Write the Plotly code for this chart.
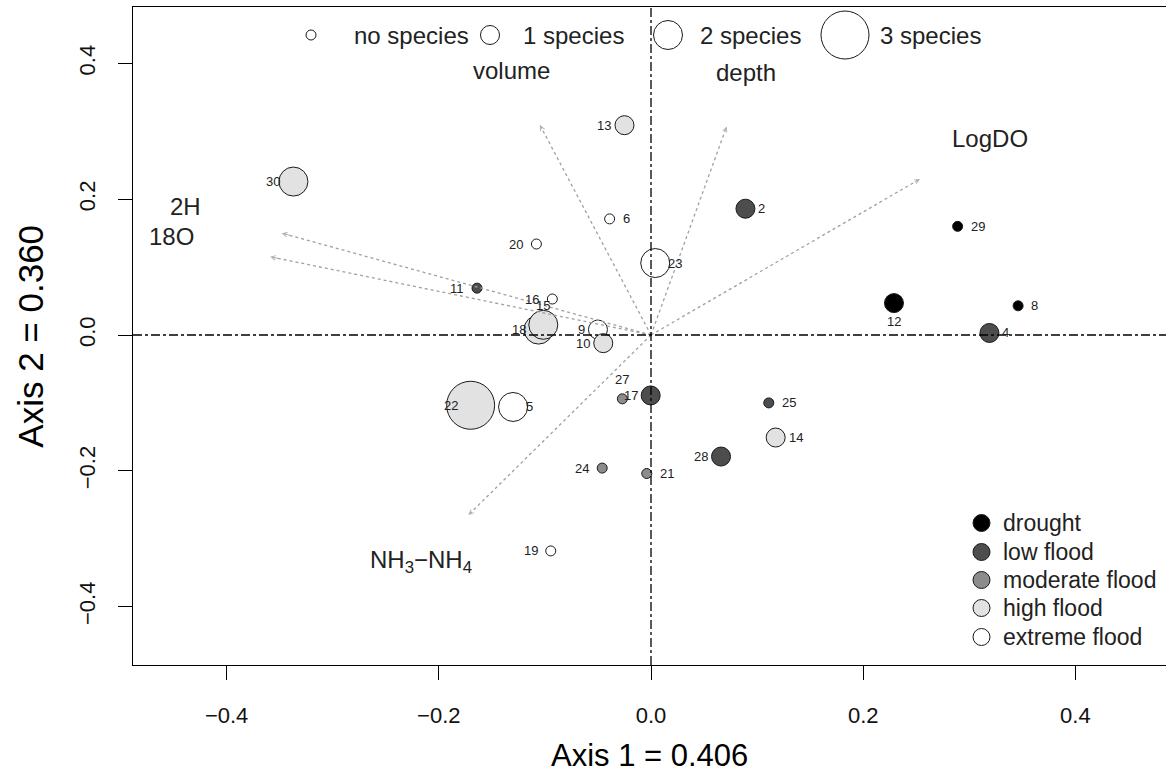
import plotly.graph_objects as go

# ---------------- data ----------------
site_ids = ["30", "13", "2", "6", "29", "20", "23", "11", "16", "18", "15", "9", "10",
            "12", "8", "4", "27", "17", "22", "5", "25", "14", "28", "24", "21", "19"]
axis1 = [-0.337, -0.025, 0.089, -0.039, 0.289, -0.108, 0.004, -0.164, -0.093, -0.106, -0.1015, -0.050, -0.045,
         0.229, 0.346, 0.319, -0.027, -0.0003, -0.170, -0.130, 0.111, 0.1175, 0.066, -0.046, -0.004, -0.0945]
axis2 = [0.226, 0.309, 0.186, 0.171, 0.160, 0.134, 0.106, 0.069, 0.053, 0.008, 0.015, 0.008, -0.012,
         0.047, 0.043, 0.003, -0.094, -0.089, -0.1035, -0.106, -0.100, -0.151, -0.179, -0.196, -0.204, -0.318]
flood_class = ["high flood", "high flood", "low flood", "extreme flood", "drought", "extreme flood",
               "extreme flood", "low flood", "extreme flood", "high flood", "high flood", "extreme flood",
               "high flood", "drought", "drought", "low flood", "moderate flood", "low flood", "high flood",
               "extreme flood", "low flood", "high flood", "low flood", "moderate flood", "moderate flood",
               "extreme flood"]
species_count = [2, 1, 1, 0, 0, 0, 2, 0, 0, 2, 2, 1, 1, 1, 0, 1, 0, 1, 3, 2, 0, 1, 1, 0, 0, 0]

env_names = ["volume", "depth", "LogDO", "2H", "18O", "NH<sub>3</sub>\u2212NH<sub>4</sub>"]
env_axis1 = [-0.1046, 0.0713, 0.2535, -0.348, -0.359, -0.172]
env_axis2 = [0.309, 0.307, 0.2297, 0.150, 0.1153, -0.265]

flood_levels = ["drought", "low flood", "moderate flood", "high flood", "extreme flood"]
species_levels = [0, 1, 2, 3]
species_names = ["no species", "1 species", "2 species", "3 species"]

# ---------------- styles ----------------
fill_colors = {"drought": "#000000", "low flood": "#4d4d4d", "moderate flood": "#8c8c8c",
               "high flood": "#e2e2e2", "extreme flood": "#ffffff"}
marker_diam = {0: 10, 1: 19, 2: 29, 3: 48}
# where each site label sits relative to its point (l/r/t/b)
label_side = {"30": "l", "13": "l", "2": "r", "6": "r", "29": "r", "20": "l", "23": "r", "11": "l",
              "16": "l", "18": "l", "15": "t", "9": "l", "10": "l", "12": "b", "8": "r", "4": "r",
              "27": "t", "17": "l", "22": "l", "5": "r", "25": "r", "14": "r", "28": "l", "24": "l",
              "21": "r", "19": "l"}
label_scale = 1.26  # vector labels sit beyond arrow tips

FONT = "Liberation Sans, Arial, sans-serif"
W, H = 1166, 778
L, R, T, B = 133, 0, 7, 113
x0_px, y0_px = 651, 335
px_per_x, px_per_y = 1061.0, 679.0
xmin = -(x0_px - L) / px_per_x
xmax = xmin + (W - L - R) / px_per_x
ymax = (y0_px - T) / px_per_y
ymin = ymax - (H - T - B) / px_per_y


def px2x(px):
    return (px - x0_px) / px_per_x


def px2y(py):
    return (y0_px - py) / px_per_y


fig = go.Figure()

# points
fig.add_trace(go.Scatter(
    x=axis1, y=axis2, mode="markers",
    marker=dict(size=[marker_diam[s] for s in species_count],
                color=[fill_colors[c] for c in flood_class],
                line=dict(color="#1a1a1a", width=1), opacity=1),
    hoverinfo="text", text=site_ids, showlegend=False))

annotations = []
shapes = []

# site labels
for sid, x, y in zip(site_ids, axis1, axis2):
    side = label_side[sid]
    a = dict(x=x, y=y, xref="x", yref="y", text=sid, showarrow=False,
             font=dict(family=FONT, size=13, color="#222222"))
    if side == "l":
        a.update(xanchor="right", yanchor="middle", xshift=-11)
    elif side == "r":
        a.update(xanchor="left", yanchor="middle", xshift=11)
    elif side == "t":
        a.update(xanchor="center", yanchor="bottom", yshift=10)
    else:
        a.update(xanchor="center", yanchor="top", yshift=-9)
    annotations.append(a)

# environmental vectors (dotted)
for name, ex, ey in zip(env_names, env_axis1, env_axis2):
    fig.add_trace(go.Scatter(x=[0, ex], y=[0, ey], mode="lines",
                             line=dict(color="#a0a0a0", width=1.3, dash="dot"),
                             hoverinfo="skip", showlegend=False))
    annotations.append(dict(x=ex, y=ey, ax=ex * 0.975, ay=ey * 0.975, xref="x", yref="y",
                            axref="x", ayref="y", showarrow=True, arrowhead=5, arrowsize=0.9,
                            arrowwidth=1, arrowcolor="#b0b0b0", text=""))
    annotations.append(dict(x=ex * label_scale, y=ey * label_scale, xref="x", yref="y", text=name,
                            showarrow=False, xanchor="center", yanchor="middle",
                            font=dict(family=FONT, size=24, color="#222222")))

# zero lines (dash-dot)
shapes.append(dict(type="line", xref="x", yref="paper", x0=0, x1=0, y0=0, y1=1,
                   line=dict(color="#000000", width=1.3, dash="dashdot"), layer="above"))
shapes.append(dict(type="line", xref="paper", yref="y", x0=0, x1=1, y0=0, y1=0,
                   line=dict(color="#000000", width=1.3, dash="dashdot"), layer="above"))

# top size legend
top_circle_px = [311, 490, 668, 845]
top_text_px = [352, 521, 698, 878]
top_y = px2y(35)
for lvl, name, cpx, tpx in zip(species_levels, species_names, top_circle_px, top_text_px):
    d = marker_diam[lvl]
    shapes.append(dict(type="circle", xref="x", yref="y", xsizemode="pixel", ysizemode="pixel",
                       xanchor=px2x(cpx), yanchor=top_y, x0=-d / 2, x1=d / 2, y0=-d / 2, y1=d / 2,
                       line=dict(color="#1a1a1a", width=1), fillcolor="#ffffff", layer="above"))
    annotations.append(dict(x=px2x(tpx), y=top_y, xref="x", yref="y", text=name, showarrow=False,
                            xanchor="left", yanchor="middle",
                            font=dict(family=FONT, size=24, color="#222222")))

# bottom-right flood legend
leg_circle_px = 981.5
leg_text_px = 1001
leg_y_px = [523, 552, 580, 608, 637]
for lvl, ypx in zip(flood_levels, leg_y_px):
    shapes.append(dict(type="circle", xref="x", yref="y", xsizemode="pixel", ysizemode="pixel",
                       xanchor=px2x(leg_circle_px), yanchor=px2y(ypx), x0=-8.5, x1=8.5, y0=-8.5, y1=8.5,
                       line=dict(color="#1a1a1a", width=1), fillcolor=fill_colors[lvl], layer="above"))
    annotations.append(dict(x=px2x(leg_text_px), y=px2y(ypx), xref="x", yref="y", text=lvl,
                            showarrow=False, xanchor="left", yanchor="middle",
                            font=dict(family=FONT, size=23, color="#222222")))

# axis titles
annotations.append(dict(x=0.5, y=-0.138, xref="paper", yref="paper", xanchor="center", yanchor="middle",
                        text="Axis 1 = 0.406", showarrow=False,
                        font=dict(family=FONT, size=31, color="#000000")))
annotations.append(dict(x=-0.1, y=0.5, xref="paper", yref="paper", xanchor="center", yanchor="middle",
                        text="Axis 2 = 0.360", showarrow=False, textangle=-90,
                        font=dict(family=FONT, size=35, color="#000000")))

fig.update_layout(
    width=W, height=H, margin=dict(l=L, r=R, t=T, b=B),
    plot_bgcolor="#ffffff", paper_bgcolor="#ffffff",
    annotations=annotations, shapes=shapes, showlegend=False,
    xaxis=dict(range=[xmin, xmax], showgrid=False, zeroline=False, showline=True, mirror=True,
               linecolor="#000000", linewidth=1.2, ticks="outside", ticklen=14, tickwidth=1,
               tickcolor="#000000", tickvals=[-0.4, -0.2, 0.0, 0.2, 0.4],
               ticktext=["\u22120.4", "\u22120.2", "0.0", "0.2", "0.4"], ticklabelstandoff=16,
               tickfont=dict(family=FONT, size=22, color="#111111")),
    yaxis=dict(range=[ymin, ymax], showgrid=False, zeroline=False, showline=True, mirror=True,
               linecolor="#000000", linewidth=1.2, ticks="outside", ticklen=14, tickwidth=1,
               tickcolor="#000000", tickvals=[-0.4, -0.2, 0.0, 0.2, 0.4],
               ticktext=["\u22120.4", "\u22120.2", "0.0", "0.2", "0.4"], tickangle=-90,
               ticklabelstandoff=14, tickfont=dict(family=FONT, size=22, color="#111111")),
)

fig.write_html("out.html")
